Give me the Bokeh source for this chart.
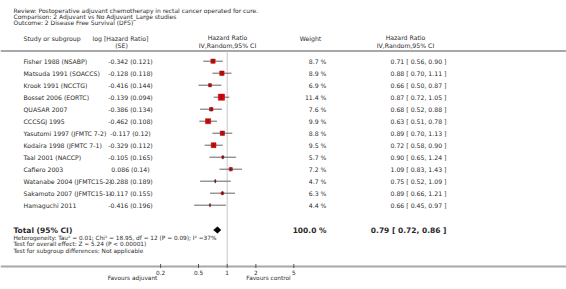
from bokeh.plotting import figure
from bokeh.models import Range1d, LinearScale, ColumnDataSource
from bokeh.core.properties import value
from bokeh.embed import file_html
from bokeh.resources import INLINE

# ---------------- data ----------------
title_lines = [
    "Review:  Postoperative adjuvant chemotherapy in rectal cancer operated for cure.",
    "Comparison:  2 Adjuvant vs No Adjuvant_Large studies",
    "Outcome:  2 Disease Free Survival (DFS)",
]
studies = [
    "Fisher 1988 (NSABP)", "Matsuda 1991 (SOACCS)", "Krook 1991 (NCCTG)",
    "Bosset 2006 (EORTC)", "QUASAR 2007", "CCCSGJ 1995",
    "Yasutomi 1997 (JFMTC 7-2)", "Kodaira 1998 (JFMTC 7-1)", "Taal 2001 (NACCP)",
    "Cafiero 2003", "Watanabe 2004 (JFMTC15-2)", "Sakamoto 2007 (JFMTC15-1)",
    "Hamaguchi 2011",
]
log_hr = [-0.342, -0.128, -0.416, -0.139, -0.386, -0.462, -0.117, -0.329,
          -0.105, 0.086, -0.288, -0.117, -0.416]
se = [0.121, 0.118, 0.144, 0.094, 0.134, 0.108, 0.12, 0.112, 0.165, 0.14,
      0.189, 0.155, 0.196]
weights = [8.7, 8.9, 6.9, 11.4, 7.6, 9.9, 8.8, 9.5, 5.7, 7.2, 4.7, 6.3, 4.4]
hr = [0.71, 0.88, 0.66, 0.87, 0.68, 0.63, 0.89, 0.72, 0.90, 1.09, 0.75, 0.89, 0.66]
ci_lo = [0.56, 0.70, 0.50, 0.72, 0.52, 0.51, 0.70, 0.58, 0.65, 0.83, 0.52, 0.66, 0.45]
ci_hi = [0.90, 1.11, 0.87, 1.05, 0.88, 0.78, 1.13, 0.90, 1.24, 1.43, 1.09, 1.21, 0.97]
total_label = "Total (95% CI)"
total_weight = 100.0
total_hr, total_lo, total_hi = 0.79, 0.72, 0.86
stats_lines = [
    "Heterogeneity: Tau\u00b2 = 0.01; Chi\u00b2 = 18.95, df = 12 (P = 0.09); I\u00b2 =37%",
    "Test for overall effect: Z = 5.24 (P < 0.00001)",
    "Test for subgroup differences: Not applicable",
]
tick_values = [0.2, 0.5, 1, 2, 5]
tick_labels = ["0.2", "0.5", "1", "2", "5"]
favours_left = "Favours adjuvant"
favours_right = "Favours control"

# ---------------- layout ----------------
W, H = 566, 289
PX_PER_DECADE = 95.3
ONE_PX = 226.7
lo_lim = 10 ** (-ONE_PX / PX_PER_DECADE)
hi_lim = 10 ** ((W - ONE_PX) / PX_PER_DECADE)
AXIS_Y = 266

FONT = value("DejaVu Sans")
TXT = "#2a2a2a"

p = figure(width=W, height=H, x_axis_type="log",
           x_range=Range1d(lo_lim, hi_lim), y_range=Range1d(H, 0),
           output_backend="svg", toolbar_location=None,
           x_axis_location=None, y_axis_location=None,
           min_border_left=0, min_border_right=0, min_border_top=0,
           min_border_bottom=0)
p.extra_x_ranges = {"px": Range1d(0, W)}
p.extra_x_scales = {"px": LinearScale()}
p.grid.visible = False
p.outline_line_color = None
p.background_fill_color = "white"
p.border_fill_color = "white"


def txt(x, y, s, align="left", size="6.2px", style="normal"):
    p.text(x=[x], y=[y], text=[s], x_range_name="px", text_font=FONT,
           text_font_size=size, text_font_style=style, text_align=align,
           text_baseline="middle", text_color=TXT)


# title
for i, s in enumerate(title_lines):
    txt(13, 9.8 + 5.9 * i, s, size="6px")

# headers
H1, H2 = 38, 44.5
txt(23, H1, "Study or subgroup")
txt(120, H1, "log [Hazard Ratio]", "center")
txt(121, H2, "(SE)", "center")
txt(227, H1 - 1, "Hazard Ratio", "center")
txt(227, H2, "IV,Random,95% CI", "center")
txt(310, H1, "Weight", "center")
txt(405, H1 - 1, "Hazard Ratio", "center")
txt(405, H2, "IV,Random,95% CI", "center")

# separator line under header and axis line
p.segment(x0=[0, 0], x1=[W, W], y0=[50.5, AXIS_Y], y1=[50.5, AXIS_Y],
          x_range_name="px", line_color="#a8a8a8", line_width=2)
# line of no effect
p.segment(x0=[1], x1=[1], y0=[50.5], y1=[AXIS_Y], line_color="#c8c8c8",
          line_width=1)

# axis ticks and labels on the log scale
tsrc = ColumnDataSource(dict(x=tick_values, lab=tick_labels,
                             y0=[AXIS_Y - 2.5] * len(tick_values),
                             y1=[AXIS_Y + 1.5] * len(tick_values),
                             yl=[AXIS_Y + 5.5] * len(tick_values)))
p.segment(x0="x", x1="x", y0="y0", y1="y1", source=tsrc,
          line_color="#555555", line_width=1)
p.text(x="x", y="yl", text="lab", source=tsrc, text_font=FONT,
       text_font_size="5.8px", text_align="center", text_baseline="middle",
       text_color=TXT)

# study rows
ROW0, ROWH = 60.7, 12.0
ys = [ROW0 + ROWH * i for i in range(len(studies))]
src = ColumnDataSource(dict(
    y=ys, hr=hr, lo=ci_lo, hi=ci_hi,
    size=[max(0.7 * w - 1.8, 1.0) for w in weights],
    name=studies,
    est=[f"{a} ({b})" for a, b in zip(log_hr, se)],
    wt=[f"{w:.1f} %" for w in weights],
    ci=[f"{a:.2f} [ {b:.2f}, {c:.2f} ]" for a, b, c in zip(hr, ci_lo, ci_hi)],
    ytop=[y - 2 for y in ys], ybot=[y + 2 for y in ys],
    xname=[23] * len(ys), xest=[130] * len(ys), xwt=[326] * len(ys),
    xci=[446] * len(ys),
))
p.segment(x0="lo", x1="hi", y0="y", y1="y", source=src, line_color="#666666",
          line_width=1)
p.scatter(x="hr", y="y", size="size", marker="square", source=src,
          fill_color="#e60000", line_color="#b00000", line_width=0.5)
p.segment(x0="hr", x1="hr", y0="ytop", y1="ybot", source=src,
          line_color="#333333", line_width=1)
common = dict(source=src, x_range_name="px", text_font=FONT,
              text_font_size="6.2px", text_baseline="middle", text_color=TXT)
p.text(x="xname", y="y", text="name", text_align="left", **common)
p.text(x="xest", y="y", text="est", text_align="center", **common)
p.text(x="xwt", y="y", text="wt", text_align="right", **common)
p.text(x="xci", y="y", text="ci", text_align="right", **common)

# total row
TY = 229.5
txt(13, TY, total_label, size="7.5px", style="bold")
txt(326, TY, f"{total_weight:.1f} %", "right", size="7.5px", style="bold")
txt(446, TY, f"{total_hr:.2f} [ {total_lo:.2f}, {total_hi:.2f} ]", "right",
    size="7.5px", style="bold")
p.patch(x=[total_lo, total_hr, total_hi, total_hr],
        y=[TY, TY - 3.2, TY, TY + 3.2], fill_color="black", line_color="black",
        line_width=0.5)

for i, s in enumerate(stats_lines):
    txt(13, 237 + 6.5 * i, s, size="5.8px")

# favours labels below axis
txt(132, 277.5, favours_left, "center", size="5.8px")
txt(268, 277.5, favours_right, "center", size="5.8px")

open("out.html", "w").write(file_html(p, INLINE))
